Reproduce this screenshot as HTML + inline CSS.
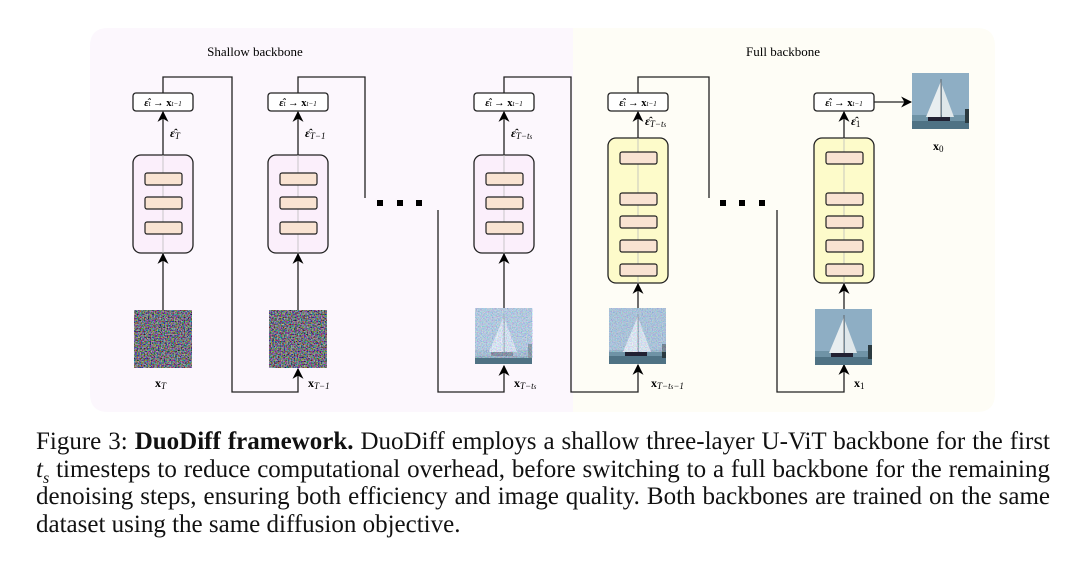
<!DOCTYPE html>
<html><head><meta charset="utf-8">
<style>
html,body{margin:0;padding:0;background:#fff;}
body{width:1080px;height:563px;position:relative;overflow:hidden;}
svg{position:absolute;left:0;top:0;}
.cap{position:absolute;left:36px;top:428px;width:1014px;font-family:"Liberation Serif",serif;font-size:25px;line-height:27.6px;color:#111;}
.cap div{text-align:justify;text-align-last:justify;white-space:nowrap;}
.cap div.l{text-align-last:left;}
</style></head><body>
<svg width="1080" height="563" viewBox="0 0 1080 563" font-family="Liberation Serif, serif">
<defs>
<filter id="nz" x="0" y="0" width="100%" height="100%">
 <feTurbulence type="fractalNoise" baseFrequency="0.7" numOctaves="2" seed="3"/>
 <feComponentTransfer><feFuncR type="linear" slope="2.2" intercept="-0.8"/><feFuncG type="linear" slope="2.2" intercept="-0.8"/><feFuncB type="linear" slope="2.2" intercept="-0.75"/><feFuncA type="linear" slope="0" intercept="1"/></feComponentTransfer>
</filter>
<filter id="nz2" x="0" y="0" width="100%" height="100%">
 <feTurbulence type="fractalNoise" baseFrequency="0.8" numOctaves="2" seed="7"/>
 <feComponentTransfer><feFuncR type="linear" slope="1.6" intercept="-0.2"/><feFuncG type="linear" slope="1.6" intercept="-0.1"/><feFuncB type="linear" slope="1.6" intercept="0.1"/><feFuncA type="linear" slope="0" intercept="0.6"/></feComponentTransfer>
</filter>
<marker id="ah" viewBox="0 0 10 10" refX="9" refY="5" markerWidth="11" markerHeight="11" markerUnits="userSpaceOnUse" orient="auto"><path d="M0,0 L10,5 L0,10 L3,5 z" fill="#000"/></marker>
<g id="boat">
 <rect x="0" y="0" width="57" height="56" fill="#8eaec4"/>
 <rect x="0" y="42" width="57" height="14" fill="#6f93a6"/>
 <rect x="0" y="48" width="57" height="8" fill="#4f7284"/>
 <polygon points="29,8 29,44 14,44" fill="#e8eef0"/>
 <polygon points="30,12 30,44 42,44" fill="#dfe7ea"/>
 <line x1="29" y1="6" x2="29" y2="46" stroke="#555" stroke-width="0.8"/>
 <rect x="16" y="44" width="22" height="4" fill="#223"/>
 <rect x="53" y="36" width="4" height="14" fill="#2b3a40"/>
</g>
</defs>
<path d="M108,28 H573 V412 H108 Q90,412 90,394 V46 Q90,28 108,28 Z" fill="#fcf7fd"/>
<path d="M573,28 H977 Q995,28 995,46 V394 Q995,412 977,412 H573 Z" fill="#fefdf6"/>
<text x="255" y="56" font-size="13" text-anchor="middle">Shallow backbone</text>
<text x="783" y="56" font-size="13" text-anchor="middle">Full backbone</text>

<g stroke="#222" stroke-width="1.3" fill="none">
 <polyline points="163,93 163,77 232,77 232,392 298,392 298,369" marker-end="url(#ah)"/>
 <polyline points="298,93 298,77 365,77 365,198"/>
 <polyline points="438,210 438,392 504,392 504,366" marker-end="url(#ah)"/>
 <polyline points="504,93 504,77 571,77 571,392 638,392 638,365" marker-end="url(#ah)"/>
 <polyline points="638,93 638,77 709,77 709,198"/>
 <polyline points="777,210 777,392 844,392 844,365" marker-end="url(#ah)"/>
 <line x1="874" y1="102" x2="911" y2="102" marker-end="url(#ah)"/>
 <line x1="163" y1="310" x2="163" y2="254" marker-end="url(#ah)"/>
 <line x1="163" y1="155" x2="163" y2="112" marker-end="url(#ah)"/>
 <line x1="298" y1="310" x2="298" y2="254" marker-end="url(#ah)"/>
 <line x1="298" y1="155" x2="298" y2="112" marker-end="url(#ah)"/>
 <line x1="504" y1="308" x2="504" y2="254" marker-end="url(#ah)"/>
 <line x1="504" y1="155" x2="504" y2="112" marker-end="url(#ah)"/>
 <line x1="638" y1="308" x2="638" y2="284" marker-end="url(#ah)"/>
 <line x1="638" y1="138" x2="638" y2="112" marker-end="url(#ah)"/>
 <line x1="844" y1="309" x2="844" y2="284" marker-end="url(#ah)"/>
 <line x1="844" y1="138" x2="844" y2="112" marker-end="url(#ah)"/>
</g>
<g fill="#000"><rect x="377" y="200" width="6" height="6"/><rect x="397" y="200" width="6" height="6"/><rect x="416" y="200" width="6" height="6"/>
<rect x="720" y="200" width="6" height="6"/><rect x="739" y="200" width="6" height="6"/><rect x="759" y="200" width="6" height="6"/></g>

<g stroke="#222" stroke-width="1.3">
 <rect x="133" y="155" width="60" height="98" rx="8" fill="#fbeffb"/>
 <rect x="268" y="155" width="60" height="98" rx="8" fill="#fbeffb"/>
 <rect x="474" y="155" width="60" height="98" rx="8" fill="#fbeffb"/>
 <rect x="608" y="138" width="60" height="145" rx="8" fill="#fdfbca"/>
 <rect x="814" y="138" width="60" height="145" rx="8" fill="#fdfbca"/>
</g>
<g stroke="#bbb" stroke-width="0.8"><line x1="163" y1="155" x2="163" y2="253"/><line x1="298" y1="155" x2="298" y2="253"/><line x1="504" y1="155" x2="504" y2="253"/><line x1="638" y1="138" x2="638" y2="283"/><line x1="844" y1="138" x2="844" y2="283"/></g>
<g stroke="#222" stroke-width="1.2" fill="#f9e3d2">
 <rect x="145" y="173" width="37" height="12" rx="2"/><rect x="145" y="197" width="37" height="12" rx="2"/><rect x="145" y="222" width="37" height="12" rx="2"/>
 <rect x="280" y="173" width="37" height="12" rx="2"/><rect x="280" y="197" width="37" height="12" rx="2"/><rect x="280" y="222" width="37" height="12" rx="2"/>
 <rect x="486" y="173" width="37" height="12" rx="2"/><rect x="486" y="197" width="37" height="12" rx="2"/><rect x="486" y="222" width="37" height="12" rx="2"/>
 <rect x="620" y="152" width="37" height="12" rx="2"/><rect x="620" y="193" width="37" height="12" rx="2"/><rect x="620" y="216" width="37" height="12" rx="2"/><rect x="620" y="240" width="37" height="12" rx="2"/><rect x="620" y="264" width="37" height="12" rx="2"/>
 <rect x="826" y="152" width="37" height="12" rx="2"/><rect x="826" y="193" width="37" height="12" rx="2"/><rect x="826" y="216" width="37" height="12" rx="2"/><rect x="826" y="240" width="37" height="12" rx="2"/><rect x="826" y="264" width="37" height="12" rx="2"/>
</g>
<g stroke="#222" stroke-width="1.3" fill="#fff">
 <rect x="133" y="93" width="60" height="18" rx="3"/><rect x="268" y="93" width="60" height="18" rx="3"/><rect x="474" y="93" width="60" height="18" rx="3"/><rect x="608" y="93" width="60" height="18" rx="3"/><rect x="814" y="93" width="60" height="18" rx="3"/>
</g>
<g font-size="10.5" text-anchor="middle">
 <text x="163" y="106"><tspan font-weight="bold" font-style="italic">ε̂</tspan><tspan font-size="7" font-style="italic">t</tspan> → <tspan font-weight="bold">x</tspan><tspan font-size="7" font-style="italic">t−1</tspan></text>
 <text x="298" y="106"><tspan font-weight="bold" font-style="italic">ε̂</tspan><tspan font-size="7" font-style="italic">t</tspan> → <tspan font-weight="bold">x</tspan><tspan font-size="7" font-style="italic">t−1</tspan></text>
 <text x="504" y="106"><tspan font-weight="bold" font-style="italic">ε̂</tspan><tspan font-size="7" font-style="italic">t</tspan> → <tspan font-weight="bold">x</tspan><tspan font-size="7" font-style="italic">t−1</tspan></text>
 <text x="638" y="106"><tspan font-weight="bold" font-style="italic">ε̂</tspan><tspan font-size="7" font-style="italic">t</tspan> → <tspan font-weight="bold">x</tspan><tspan font-size="7" font-style="italic">t−1</tspan></text>
 <text x="844" y="106"><tspan font-weight="bold" font-style="italic">ε̂</tspan><tspan font-size="7" font-style="italic">t</tspan> → <tspan font-weight="bold">x</tspan><tspan font-size="7" font-style="italic">t−1</tspan></text>
</g>
<g font-size="12">
 <text x="170" y="137"><tspan font-weight="bold" font-style="italic">ε̂</tspan><tspan font-size="9" font-style="italic" dy="2">T</tspan></text>
 <text x="305" y="137"><tspan font-weight="bold" font-style="italic">ε̂</tspan><tspan font-size="9" font-style="italic" dy="2">T−1</tspan></text>
 <text x="511" y="137"><tspan font-weight="bold" font-style="italic">ε̂</tspan><tspan font-size="9" font-style="italic" dy="2">T−t<tspan font-size="7">s</tspan></tspan></text>
 <text x="645" y="125"><tspan font-weight="bold" font-style="italic">ε̂</tspan><tspan font-size="9" font-style="italic" dy="2">T−t<tspan font-size="7">s</tspan></tspan></text>
 <text x="851" y="125"><tspan font-weight="bold" font-style="italic">ε̂</tspan><tspan font-size="9" dy="2">1</tspan></text>
 <text x="155" y="387"><tspan font-weight="bold">x</tspan><tspan font-size="9" font-style="italic" dy="2">T</tspan></text>
 <text x="308" y="387"><tspan font-weight="bold">x</tspan><tspan font-size="9" font-style="italic" dy="2">T−1</tspan></text>
 <text x="514" y="387"><tspan font-weight="bold">x</tspan><tspan font-size="9" font-style="italic" dy="2">T−t<tspan font-size="7">s</tspan></tspan></text>
 <text x="651" y="387"><tspan font-weight="bold">x</tspan><tspan font-size="9" font-style="italic" dy="2">T−t<tspan font-size="7">s</tspan>−1</tspan></text>
 <text x="854" y="387"><tspan font-weight="bold">x</tspan><tspan font-size="9" dy="2">1</tspan></text>
 <text x="933" y="150"><tspan font-weight="bold">x</tspan><tspan font-size="9" dy="2">0</tspan></text>
</g>
<rect x="134" y="310" width="58" height="58" fill="#888" filter="url(#nz)"/>
<rect x="134" y="310" width="58" height="58" fill="#404050" opacity="0.3"/>
<rect x="269" y="310" width="58" height="58" fill="#888" filter="url(#nz)"/>
<rect x="269" y="310" width="58" height="58" fill="#404050" opacity="0.3"/>
<use href="#boat" x="475" y="308"/>
<rect x="475" y="308" width="58" height="50" fill="#9ab" filter="url(#nz2)"/>
<use href="#boat" x="609" y="308"/>
<rect x="609" y="308" width="57" height="44" fill="#9ab" filter="url(#nz2)" opacity="0.8"/>
<use href="#boat" x="815" y="309"/>
<use href="#boat" x="912" y="73"/>
</svg>
<div class="cap">
<div>Figure 3: <b>DuoDiff framework.</b> DuoDiff employs a shallow three-layer U-ViT backbone for the first</div>
<div><i>t</i><sub style="font-size:16px;line-height:0"><i>s</i></sub> timesteps to reduce computational overhead, before switching to a full backbone for the remaining</div>
<div>denoising steps, ensuring both efficiency and image quality. Both backbones are trained on the same</div>
<div class="l">dataset using the same diffusion objective.</div>
</div>
</body></html>
